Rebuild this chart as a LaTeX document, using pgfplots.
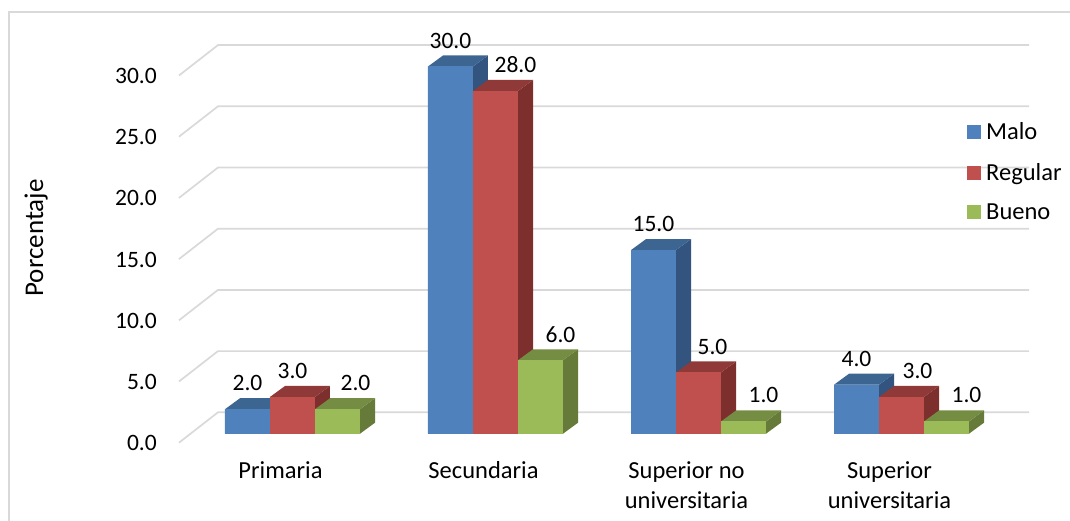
\documentclass[border=0pt]{standalone}
\usepackage{fontspec}
\setmainfont{Carlito}
\usepackage{pgfplots}
\usepackage{pgfplotstable}
\pgfplotsset{compat=1.18}

\definecolor{malo}{HTML}{4F81BD}
\definecolor{malotop}{HTML}{3D6592}
\definecolor{maloside}{HTML}{32547F}
\definecolor{regular}{HTML}{C0504D}
\definecolor{regulartop}{HTML}{8F3A38}
\definecolor{regularside}{HTML}{7C2F2D}
\definecolor{bueno}{HTML}{9BBB59}
\definecolor{buenotop}{HTML}{748D42}
\definecolor{buenoside}{HTML}{667B3A}
\definecolor{wall}{HTML}{D9D9D9}

% Values per level of education, with the horizontal offset of each value label
\pgfplotstableread{
idx Malo Regular Bueno dxMalo dxRegular dxBueno
0   2    3       2     0      0         18
1   30   28      6     0      20        20
2   15   5       1     0      14        20
3   4    3       1     0      16        20
}\datos

\newcommand{\labelfont}{\fontsize{24.5}{30}\selectfont}
\newcommand{\numberfont}{\fontsize{23.5}{30}\selectfont}

% One whole bar as a plot mark, relative to the middle of its front top edge:
% side face, top face, then front face
\pgfdeclareplotmark{barfaces}{%
  \pgfsetfillcolor{sidecolor}%
  \pgfpathmoveto{\pgfpoint{22.5pt}{0pt}}%
  \pgfpathlineto{\pgfpoint{37.5pt}{11pt}}%
  \pgfpathlineto{\pgfpoint{37.5pt}{11pt-\barh pt}}%
  \pgfpathlineto{\pgfpoint{22.5pt}{-\barh pt}}%
  \pgfpathclose
  \pgfusepath{fill}%
  \pgfsetfillcolor{topcolor}%
  \pgfpathmoveto{\pgfpoint{-22.5pt}{0pt}}%
  \pgfpathlineto{\pgfpoint{22.5pt}{0pt}}%
  \pgfpathlineto{\pgfpoint{37.5pt}{11pt}}%
  \pgfpathlineto{\pgfpoint{-7.5pt}{11pt}}%
  \pgfpathclose
  \pgfusepath{fill}%
  \pgfsetfillcolor{frontcolor}%
  \pgfpathrectanglecorners{\pgfpoint{-22.5pt}{0pt}}{\pgfpoint{22.5pt}{-\barh pt}}%
  \pgfusepath{fill}%
}

\pgfplotsset{
  front bar/.style={ybar, bar width=45pt, bar shift=0pt, draw=none, fill=#1},
  % the bar mark and the value label, drawn per point from the same column
  bar depth/.style n args={4}{
    forget plot, only marks, mark=barfaces, mark size=1pt,
    visualization depends on={\thisrow{#1}*12.24 \as \barh},
    visualization depends on={\thisrow{dx#1} \as \labeldx},
    execute at begin plot visualization={\colorlet{frontcolor}{#2}\colorlet{topcolor}{#3}\colorlet{sidecolor}{#4}},
    nodes near coords,
    every node near coord/.style={anchor=center, font=\numberfont, text=black, inner sep=0pt,
      xshift=\labeldx pt, yshift=26pt},
  },
}

\begin{document}
\begin{tikzpicture}
\useasboundingbox (-179pt,-87.3pt) rectangle (891pt,433.7pt);
\draw[wall, line width=1.5pt] (-170pt,-87.3pt) -- (-170pt,421.7pt) -- (891pt,421.7pt);
\begin{axis}[
  scale only axis, width=850pt, height=367.2pt,
  xmin=-0.5591, xmax=3.6281, ymin=0, ymax=30,
  clip=false,
  axis line style={draw=none},
  major tick length=0pt,
  /pgf/number format/assume math mode=true,
  /pgf/number format/fixed,
  /pgf/number format/fixed zerofill,
  /pgf/number format/precision=1,
  xtick={0,1,2,3},
  xticklabels={Primaria,Secundaria,{Superior no\\universitaria},{Superior\\universitaria}},
  ytick={0,5,10,15,20,25,30},
  xticklabel style={font=\labelfont, text=black, align=center, anchor=north, inner sep=0pt, xshift=-12pt, yshift=-28pt},
  yticklabel style={font=\numberfont, text=black, anchor=east, inner sep=0pt, xshift=-22pt, yshift=-9.5pt},
  ylabel={Porcentaje},
  every axis y label/.style={at={(axis description cs:-0.168,0.533)}, rotate=90, anchor=center, font=\fontsize{27}{30}\selectfont},
  legend image code/.code={\fill[#1] (0pt,-7pt) rectangle (14pt,7pt);},
  legend style={at={(axis cs:3.32,25.5)}, anchor=north west, draw=none, fill=none,
    font=\labelfont, inner sep=0pt, row sep=20pt, nodes={inner ysep=1pt, inner xsep=5.5pt}},
  legend cell align=left,
]
% Back wall and floor guide lines
\pgfplotsinvokeforeach{0,5,10,15,20,25,30}{
  \draw[wall, line width=1.7pt] (axis cs:-0.5591,#1-0.735) -- (axis cs:-0.367,#1+1.748) -- (axis cs:3.6281,#1+1.748);
}

\addplot[bar depth={Malo}{malo}{malotop}{maloside}] table[x expr=\thisrow{idx}-0.2217, y=Malo] {\datos};
\addplot[front bar=malo] table[x expr=\thisrow{idx}-0.2217, y=Malo] {\datos};
\addlegendentry{Malo}
\addplot[bar depth={Regular}{regular}{regulartop}{regularside}] table[x=idx, y=Regular] {\datos};
\addplot[front bar=regular] table[x=idx, y=Regular] {\datos};
\addlegendentry{Regular}
\addplot[bar depth={Bueno}{bueno}{buenotop}{buenoside}] table[x expr=\thisrow{idx}+0.2217, y=Bueno] {\datos};
\addplot[front bar=bueno] table[x expr=\thisrow{idx}+0.2217, y=Bueno] {\datos};
\addlegendentry{Bueno}
\end{axis}
\end{tikzpicture}
\end{document}
